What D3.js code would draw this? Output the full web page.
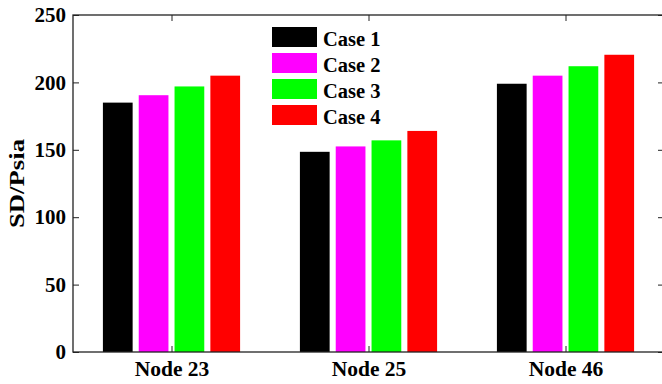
<!DOCTYPE html>
<html>
<head>
<meta charset="utf-8">
<script src="https://cdn.jsdelivr.net/npm/d3@7/dist/d3.min.js"></script>
<style>
  html, body { margin: 0; padding: 0; background: #fff; }
  svg { display: block; }
  text { font-family: "Liberation Serif", "Times New Roman", serif; font-weight: bold; fill: #000; }
</style>
</head>
<body>
<svg id="chart" width="662" height="384"></svg>
<script>
const categories = ["Node 23", "Node 25", "Node 46"];
const seriesNames = ["Case 1", "Case 2", "Case 3", "Case 4"];
const seriesColors = ["#000000", "#ff00ff", "#00ff00", "#ff0000"];
const case1 = [185, 148.5, 199];
const case2 = [190.5, 152.5, 205];
const case3 = [197, 157, 212];
const case4 = [205, 164, 220.5];
const yTicks = [0, 50, 100, 150, 200, 250];
const yLabel = "SD/Psia";

const series = [case1, case2, case3, case4];

const svg = d3.select("#chart");
const mLeft = 73, mRight = 664, mTop = 15, mBottom = 352;

const x = d3.scaleLinear().domain([0.5, categories.length + 0.5]).range([mLeft, mRight]);
const y = d3.scaleLinear().domain([0, 250]).range([mBottom, mTop]);

const nS = series.length;
const groupWidth = Math.min(0.8, nS / (nS + 1.5));
const pitch = groupWidth / nS;
const barW = pitch * 0.83;

// bars
series.forEach((vals, si) => {
  svg.append("g").selectAll("rect").data(vals).join("rect")
    .attr("x", (d, i) => x(i + 1 + (si - (nS - 1) / 2) * pitch) - (x(barW) - x(0)) / 2)
    .attr("width", x(barW) - x(0))
    .attr("y", d => y(d))
    .attr("height", d => y(0) - y(d))
    .attr("fill", seriesColors[si]);
});

// axes
const tickLen = 6;
const axisColor = "#222";
const gAx = svg.append("g");
gAx.append("rect").attr("x", mLeft).attr("y", mTop).attr("width", mRight - mLeft).attr("height", mBottom - mTop)
  .attr("fill", "none").attr("stroke", axisColor).attr("stroke-width", 1.3);

const yAxisL = d3.axisLeft(y).tickValues(yTicks).tickSize(-tickLen).tickPadding(7).tickFormat(d3.format("d"));
const gy = svg.append("g").attr("transform", `translate(${mLeft},0)`).call(yAxisL);
gy.select(".domain").remove();
gy.selectAll(".tick line").attr("stroke", axisColor);
gy.selectAll(".tick text").style("font-size", "21px").attr("font-family", null).attr("fill", "#000");

const yAxisR = d3.axisRight(y).tickValues(yTicks).tickSize(-tickLen).tickFormat("");
const gyr = svg.append("g").attr("transform", `translate(${mRight},0)`).call(yAxisR);
gyr.select(".domain").remove();
gyr.selectAll(".tick line").attr("stroke", axisColor);

const xTicks = categories.map((c, i) => i + 1);
const xAxisB = d3.axisBottom(x).tickValues(xTicks).tickSize(-tickLen).tickPadding(9).tickFormat((d, i) => categories[i]);
const gx = svg.append("g").attr("transform", `translate(0,${mBottom})`).call(xAxisB);
gx.select(".domain").remove();
gx.selectAll(".tick line").attr("stroke", axisColor);
gx.selectAll(".tick text").style("font-size", "21.5px").attr("font-family", null).attr("fill", "#000");

const xAxisT = d3.axisTop(x).tickValues(xTicks).tickSize(-tickLen).tickFormat("");
const gxt = svg.append("g").attr("transform", `translate(0,${mTop})`).call(xAxisT);
gxt.select(".domain").remove();
gxt.selectAll(".tick line").attr("stroke", axisColor);

svg.append("text")
  .attr("transform", `translate(24,${(mTop + mBottom) / 2}) rotate(-90)`)
  .attr("text-anchor", "middle")
  .attr("textLength", 89)
  .attr("lengthAdjust", "spacingAndGlyphs")
  .style("font-size", "22px")
  .text(yLabel);

const leg = svg.append("g");
seriesNames.forEach((name, i) => {
  const cy = 37 + i * 26;
  leg.append("rect").attr("x", 272).attr("y", cy - 10).attr("width", 45).attr("height", 20).attr("fill", seriesColors[i]);
  leg.append("text").attr("x", 323).attr("y", cy + 8.5).style("font-size", "20.5px").text(name);
});
</script>
</body>
</html>
